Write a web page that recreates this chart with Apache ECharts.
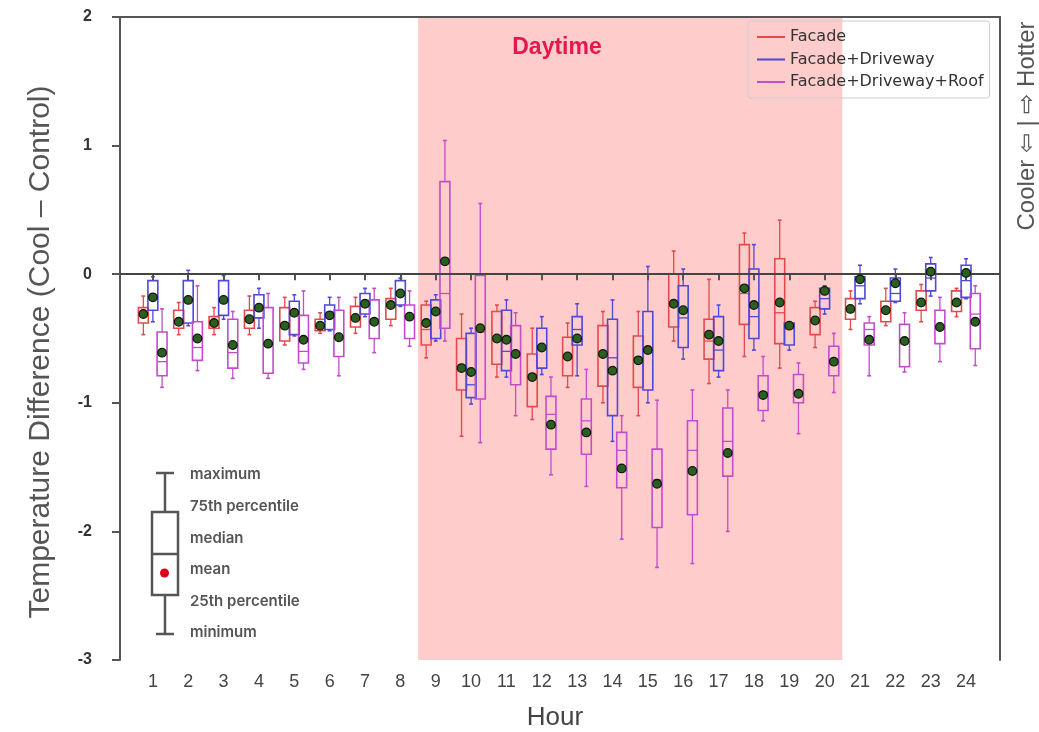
<!DOCTYPE html>
<html><head><meta charset="utf-8">
<script src="https://cdn.jsdelivr.net/npm/echarts@6/dist/echarts.min.js"></script>
<style>html,body{margin:0;padding:0;background:#fff}#c{width:1039px;height:732px}</style>
</head><body><div id="c"></div>
<script>
// ---------------- data ----------------
const hours = [1,2,3,4,5,6,7,8,9,10,11,12,13,14,15,16,17,18,19,20,21,22,23,24];
const yTicks = [-3,-2,-1,0,1,2];
const seriesNames = ['Facade','Facade+Driveway','Facade+Driveway+Roof'];
const dayStart = 8.5, dayEnd = 20.5;
// [min, q1, median, q3, max]
const facadeBox = [
 [-0.47,-0.38,-0.32,-0.26,-0.17],[-0.47,-0.42,-0.37,-0.28,-0.22],[-0.47,-0.42,-0.37,-0.33,-0.26],
 [-0.47,-0.42,-0.35,-0.28,-0.17],[-0.55,-0.52,-0.38,-0.26,-0.18],[-0.46,-0.44,-0.40,-0.35,-0.30],
 [-0.46,-0.41,-0.34,-0.25,-0.18],[-0.40,-0.35,-0.24,-0.19,-0.11],[-0.65,-0.55,-0.43,-0.24,-0.21],
 [-1.26,-0.90,-0.73,-0.50,-0.31],[-0.80,-0.70,-0.50,-0.29,-0.24],[-1.13,-1.03,-0.78,-0.62,-0.42],
 [-0.88,-0.79,-0.64,-0.49,-0.38],[-1.00,-0.87,-0.60,-0.40,-0.29],[-1.10,-0.88,-0.65,-0.48,-0.29],
 [-0.52,-0.41,-0.25,0.00,0.18],[-0.85,-0.66,-0.52,-0.35,-0.04],[-0.64,-0.39,-0.15,0.23,0.32],
 [-0.73,-0.54,-0.30,0.12,0.42],[-0.57,-0.47,-0.37,-0.26,-0.21],[-0.43,-0.35,-0.27,-0.19,-0.13],
 [-0.40,-0.37,-0.28,-0.21,-0.11],[-0.37,-0.28,-0.21,-0.13,-0.08],[-0.33,-0.29,-0.22,-0.13,-0.11]
];
const facadeMean = [-0.31,-0.37,-0.38,-0.35,-0.40,-0.40,-0.34,-0.24,-0.38,-0.73,-0.50,-0.80,
 -0.64,-0.62,-0.67,-0.23,-0.47,-0.11,-0.22,-0.36,-0.27,-0.28,-0.22,-0.22];
const drivewayBox = [
 [-0.37,-0.28,-0.17,-0.05,-0.02],[-0.40,-0.38,-0.20,-0.05,0.03],[-0.35,-0.32,-0.19,-0.05,-0.01],
 [-0.42,-0.34,-0.25,-0.16,-0.11],[-0.48,-0.47,-0.30,-0.21,-0.16],[-0.44,-0.43,-0.32,-0.24,-0.18],
 [-0.33,-0.31,-0.23,-0.15,-0.11],[-0.25,-0.24,-0.14,-0.05,-0.03],[-0.52,-0.50,-0.30,-0.20,-0.16],
 [-1.01,-0.96,-0.86,-0.46,-0.42],[-0.80,-0.75,-0.60,-0.28,-0.20],[-0.78,-0.73,-0.58,-0.42,-0.33],
 [-0.79,-0.55,-0.43,-0.33,-0.23],[-1.30,-1.10,-0.65,-0.35,-0.20],[-1.00,-0.90,-0.60,-0.29,0.06],
 [-0.66,-0.57,-0.34,-0.09,0.04],[-0.80,-0.75,-0.59,-0.33,-0.24],[-0.59,-0.50,-0.33,0.04,0.23],
 [-0.59,-0.55,-0.42,-0.38,-0.37],[-0.31,-0.27,-0.19,-0.11,-0.09],[-0.23,-0.19,-0.09,-0.02,0.07],
 [-0.22,-0.21,-0.15,-0.03,0.04],[-0.17,-0.13,-0.03,0.08,0.13],[-0.19,-0.18,-0.05,0.07,0.12]
];
const drivewayMean = [-0.18,-0.20,-0.20,-0.26,-0.30,-0.32,-0.23,-0.15,-0.29,-0.76,-0.51,-0.57,
 -0.50,-0.75,-0.59,-0.28,-0.52,-0.24,-0.40,-0.13,-0.04,-0.07,0.02,0.01];
const roofBox = [
 [-0.88,-0.79,-0.68,-0.45,-0.27],[-0.75,-0.67,-0.57,-0.37,-0.09],[-0.81,-0.73,-0.61,-0.35,-0.29],
 [-0.81,-0.77,-0.54,-0.26,-0.15],[-0.74,-0.69,-0.60,-0.32,-0.13],[-0.79,-0.64,-0.50,-0.28,-0.18],
 [-0.61,-0.50,-0.35,-0.20,-0.11],[-0.56,-0.50,-0.33,-0.24,-0.13],[-0.52,-0.42,-0.15,0.72,1.04],
 [-1.31,-0.97,-0.45,-0.01,0.55],[-1.10,-0.86,-0.60,-0.40,-0.30],[-1.56,-1.36,-1.09,-0.95,-0.80],
 [-1.65,-1.40,-1.14,-0.97,-0.74],[-2.06,-1.66,-1.37,-1.23,-1.10],[-2.28,-1.97,-1.60,-1.36,-0.98],
 [-2.25,-1.87,-1.37,-1.14,-0.90],[-2.00,-1.57,-1.30,-1.04,-0.90],[-1.14,-1.06,-0.92,-0.79,-0.64],
 [-1.24,-1.00,-0.92,-0.78,-0.69],[-0.92,-0.79,-0.66,-0.56,-0.46],[-0.79,-0.55,-0.43,-0.38,-0.33],
 [-0.76,-0.72,-0.52,-0.39,-0.30],[-0.68,-0.54,-0.40,-0.28,-0.18],[-0.71,-0.58,-0.31,-0.15,-0.09]
];
const roofMean = [-0.61,-0.50,-0.55,-0.54,-0.51,-0.49,-0.37,-0.33,0.10,-0.42,-0.62,-1.17,
 -1.23,-1.51,-1.63,-1.53,-1.39,-0.94,-0.93,-0.68,-0.51,-0.52,-0.41,-0.37];

// ---------------- styling ----------------
const colors = ['#e24a4c', '#5048d8', '#c44ccc'];
const offsets = [-0.27, 0, 0.26];
const boxW = 0.28, capW = 0.11;
const yMin = -3, yMax = 2;

function boxSeries(idx, box) {
  const color = colors[idx], off = offsets[idx];
  return {
    type: 'custom', name: seriesNames[idx], z: 2, silent: true,
    itemStyle: { color: color },
    data: hours.map((h, i) => [h].concat(box[i])),
    encode: { x: 0, y: [1, 2, 3, 4, 5] },
    renderItem: function (params, api) {
      const h = api.value(0);
      const x = api.coord([h + off, 0])[0];
      const w = api.size([boxW, 0])[0];
      const c = api.size([capW, 0])[0];
      const Y = k => api.coord([h, api.value(k)])[1];
      const y0 = Y(1), y1 = Y(2), ym = Y(3), y3 = Y(4), y4 = Y(5);
      const st = { stroke: color, lineWidth: 1.3, fill: 'none' };
      return { type: 'group', children: [
        { type: 'line', shape: { x1: x, y1: y4, x2: x, y2: y3 }, style: st },
        { type: 'line', shape: { x1: x, y1: y1, x2: x, y2: y0 }, style: st },
        { type: 'line', shape: { x1: x - c / 2, y1: y4, x2: x + c / 2, y2: y4 }, style: { stroke: color, lineWidth: 1.6 } },
        { type: 'line', shape: { x1: x - c / 2, y1: y0, x2: x + c / 2, y2: y0 }, style: { stroke: color, lineWidth: 1.6 } },
        { type: 'rect', shape: { x: x - w / 2, y: y3, width: w, height: y1 - y3 }, style: { stroke: color, lineWidth: 1.6, fill: 'none' } },
        { type: 'line', shape: { x1: x - w / 2, y1: ym, x2: x + w / 2, y2: ym }, style: st }
      ]};
    }
  };
}

const chart = echarts.init(document.getElementById('c'), null, { renderer: 'canvas' });
const gridL = 120, gridT = 17, gridR = 39, gridB = 72;

const option = {
  animation: false,
  backgroundColor: '#ffffff',
  grid: { left: gridL, top: gridT, right: gridR, bottom: gridB },
  xAxis: [{
    type: 'value', min: 0.07, max: 24.96, z: 4,
    axisLine: { show: true, lineStyle: { color: '#555', width: 2 } },
    axisTick: { show: true, customValues: hours, length: 6, lineStyle: { color: '#555', width: 2 } },
    axisLabel: { customValues: hours, color: '#444', fontSize: 18, fontFamily: 'Liberation Sans', margin: 13 },
    splitLine: { show: false }
  }, {
    type: 'value', min: 0.07, max: 24.96, position: 'top', z: 4,
    axisLine: { show: true, onZero: false, lineStyle: { color: '#555', width: 2 } },
    axisTick: { show: false }, axisLabel: { show: false }, splitLine: { show: false }
  }],
  yAxis: [{
    type: 'value', min: yMin, max: yMax, interval: 1, z: 4,
    axisLine: { show: true, onZero: false, lineStyle: { color: '#555', width: 2 } },
    axisTick: { show: true, length: 8, lineStyle: { color: '#555', width: 2 } },
    axisLabel: { color: '#333', fontSize: 16, fontWeight: 'bold', fontFamily: 'Liberation Sans', margin: 28 },
    splitLine: { show: false }
  }, {
    type: 'value', min: yMin, max: yMax, position: 'right', z: 4,
    axisLine: { show: true, onZero: false, lineStyle: { color: '#555', width: 2 } },
    axisTick: { show: false }, axisLabel: { show: false }, splitLine: { show: false }
  }],
  legend: {
    show: true, orient: 'vertical', left: 748, top: 21,
    padding: [7, 6, 7, 9], itemGap: 4.5, itemWidth: 28, itemHeight: 2, itemTextGap: 12,
    borderColor: '#cccccc', borderWidth: 1, borderRadius: 3, backgroundColor: 'rgba(255,255,255,0)',
    textStyle: { fontFamily: 'DejaVu Sans', fontSize: 16, color: '#333', lineHeight: 18 },
    data: seriesNames.map((n, i) => ({ name: n, icon: 'rect', itemStyle: { color: colors[i] } }))
  },
  series: [
    {
      type: 'custom', name: 'daytime', z: 0, silent: true,
      data: [[dayStart, dayEnd]],
      encode: { x: [0, 1] },
      renderItem: function (params, api) {
        const p1 = api.coord([api.value(0), yMax]);
        const p2 = api.coord([api.value(1), yMin]);
        return { type: 'rect', shape: { x: p1[0], y: p1[1], width: p2[0] - p1[0], height: p2[1] - p1[1] },
                 style: { fill: '#ffcccc' } };
      },
      markLine: {
        silent: true, symbol: 'none', z: 5, animation: false,
        label: { show: false },
        lineStyle: { color: '#444', width: 2, type: 'solid' },
        data: [{ yAxis: 0 }]
      }
    },
    boxSeries(0, facadeBox),
    boxSeries(1, drivewayBox),
    boxSeries(2, roofBox),
    {
      type: 'custom', name: 'means', z: 6, silent: true,
      data: hours.map((h, i) => [h, facadeMean[i], drivewayMean[i], roofMean[i]]),
      encode: { x: 0, y: [1, 2, 3] },
      renderItem: function (params, api) {
        const h = api.value(0);
        const kids = [];
        for (let k = 0; k < 3; k++) {
          const p = api.coord([h + offsets[k], api.value(k + 1)]);
          kids.push({ type: 'circle', shape: { cx: p[0], cy: p[1], r: 4.3 },
                      style: { fill: '#2c5e22', stroke: '#0c1a0a', lineWidth: 1.3 } });
        }
        return { type: 'group', children: kids };
      }
    }
  ],
  graphic: [
    { type: 'text', x: 41, y: 352, rotation: Math.PI / 2, z: 10,
      style: { text: 'Temperature Difference (Cool – Control)', fill: '#555', font: '30px "Liberation Sans"', align: 'center', verticalAlign: 'middle' } },
    { type: 'text', x: 555, y: 718, z: 10,
      style: { text: 'Hour', fill: '#444', font: '26px "Liberation Sans"', align: 'center', verticalAlign: 'middle' } },
    { type: 'text', x: 557, y: 48, z: 10,
      style: { text: 'Daytime', fill: '#e5174f', font: 'bold 23px "Liberation Sans"', align: 'center', verticalAlign: 'middle' } },
    { type: 'text', x: 1027, y: 126, rotation: Math.PI / 2, z: 10,
      style: { text: 'Cooler ⇦ | ⇨ Hotter', fill: '#555', font: '24px "Liberation Sans"', align: 'center', verticalAlign: 'middle' } },
    // box-anatomy key
    { type: 'group', z: 10, children: [
      { type: 'line', shape: { x1: 156, y1: 473, x2: 174, y2: 473 }, style: { stroke: '#555', lineWidth: 2.5 } },
      { type: 'line', shape: { x1: 165, y1: 473, x2: 165, y2: 512 }, style: { stroke: '#555', lineWidth: 2.5 } },
      { type: 'rect', shape: { x: 152, y: 512, width: 26, height: 83 }, style: { stroke: '#555', lineWidth: 2.5, fill: 'none' } },
      { type: 'line', shape: { x1: 152, y1: 554, x2: 178, y2: 554 }, style: { stroke: '#555', lineWidth: 2.5 } },
      { type: 'line', shape: { x1: 165, y1: 595, x2: 165, y2: 634 }, style: { stroke: '#555', lineWidth: 2.5 } },
      { type: 'line', shape: { x1: 156, y1: 634, x2: 174, y2: 634 }, style: { stroke: '#555', lineWidth: 2.5 } },
      { type: 'circle', shape: { cx: 164.5, cy: 573, r: 4.5 }, style: { fill: '#e0001b' } },
      { type: 'text', x: 190, y: 474, style: { text: 'maximum', fill: '#555', font: '600 15px Inter', verticalAlign: 'middle' } },
      { type: 'text', x: 190, y: 506, style: { text: '75th percentile', fill: '#555', font: '600 15px Inter', verticalAlign: 'middle' } },
      { type: 'text', x: 190, y: 538, style: { text: 'median', fill: '#555', font: '600 15px Inter', verticalAlign: 'middle' } },
      { type: 'text', x: 190, y: 569, style: { text: 'mean', fill: '#555', font: '600 15px Inter', verticalAlign: 'middle' } },
      { type: 'text', x: 190, y: 601, style: { text: '25th percentile', fill: '#555', font: '600 15px Inter', verticalAlign: 'middle' } },
      { type: 'text', x: 190, y: 632, style: { text: 'minimum', fill: '#555', font: '600 15px Inter', verticalAlign: 'middle' } }
    ]}
  ]
};
chart.setOption(option);
</script>
</body></html>
